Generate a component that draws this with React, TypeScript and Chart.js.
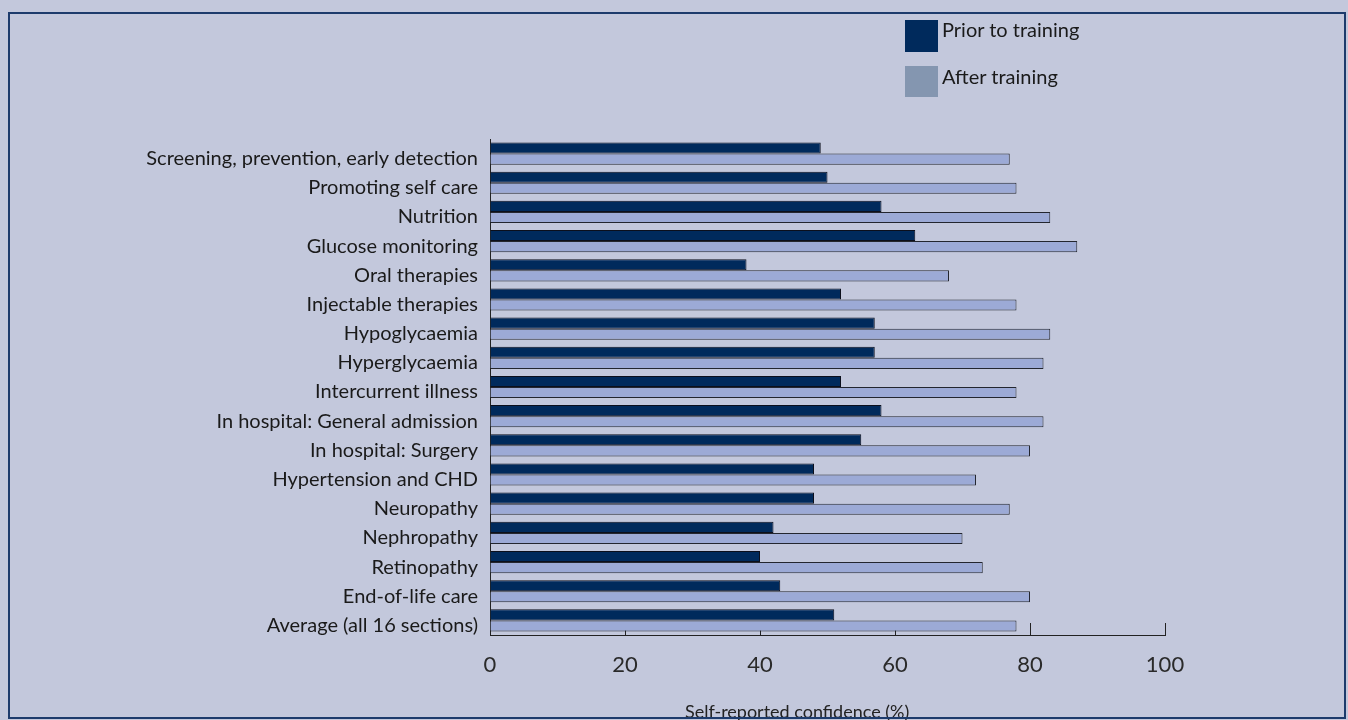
import React, { useEffect, useRef } from "react";
import { Chart, registerables } from "chart.js";

Chart.register(...registerables);

const categories = [
  "Screening, prevention, early detection",
  "Promoting self care",
  "Nutrition",
  "Glucose monitoring",
  "Oral therapies",
  "Injectable therapies",
  "Hypoglycaemia",
  "Hyperglycaemia",
  "Intercurrent illness",
  "In hospital: General admission",
  "In hospital: Surgery",
  "Hypertension and CHD",
  "Neuropathy",
  "Nephropathy",
  "Retinopathy",
  "End-of-life care",
  "Average (all 16 sections)",
];
const priorValues = [49, 50, 58, 63, 38, 52, 57, 57, 52, 58, 55, 48, 48, 42, 40, 43, 51];
const afterValues = [77, 78, 83, 87, 68, 78, 83, 82, 78, 82, 80, 72, 77, 70, 73, 80, 78];
const xTicks = [0, 20, 40, 60, 80, 100];
const seriesLabels = ["Prior to training", "After training"];
const axisTitle = "Self-reported confidence (%)";

const BG = "#c3c8dc";
const DARK = "#002a5c";
const LIGHT = "#9caad6";
const LEGEND_LIGHT = "#8496b0";
const FONT = "Lato, 'Open Sans', sans-serif";

const framePlugin = {
  id: "frame",
  beforeDraw(chart: any) {
    const ctx = chart.ctx;
    ctx.save();
    ctx.fillStyle = BG;
    ctx.fillRect(0, 0, chart.width, chart.height);
    ctx.restore();
  },
  beforeDatasetsDraw(chart: any) {
    const ctx = chart.ctx;
    const x = chart.scales.x;
    const bottom = chart.chartArea.bottom;
    ctx.save();
    ctx.strokeStyle = "#222";
    ctx.lineWidth = 1;
    xTicks.forEach((v) => {
      if (v === 0) return;
      const px = Math.round(x.getPixelForValue(v)) + 0.5;
      ctx.beginPath();
      ctx.moveTo(px, bottom);
      ctx.lineTo(px, bottom - 12);
      ctx.stroke();
    });
    ctx.restore();
  },
  afterDraw(chart: any) {
    const ctx = chart.ctx;
    const x = chart.scales.x;
    ctx.save();
    ctx.fillStyle = "#222";
    ctx.font = `18px ${FONT}`;
    ctx.textAlign = "center";
    ctx.textBaseline = "middle";
    ctx.fillText(axisTitle, x.getPixelForValue(45.5), chart.chartArea.bottom + 77);
    ctx.strokeStyle = "#1d3b6c";
    ctx.lineWidth = 2;
    ctx.strokeRect(9, 13, 1336, 705);
    ctx.restore();
  },
};

export default function App() {
  const ref = useRef<HTMLCanvasElement | null>(null);

  useEffect(() => {
    if (!ref.current) return;
    const chart = new Chart(ref.current, {
      type: "bar",
      data: {
        labels: categories,
        datasets: [
          {
            label: seriesLabels[0],
            data: priorValues,
            backgroundColor: DARK,
            borderColor: "#0b0f1c",
            borderWidth: 1,
            categoryPercentage: 0.76,
            barPercentage: 1,
          },
          {
            label: seriesLabels[1],
            data: afterValues,
            backgroundColor: LIGHT,
            borderColor: "#23262f",
            borderWidth: 1,
            categoryPercentage: 0.76,
            barPercentage: 1,
          },
        ],
      },
      options: {
        indexAxis: "y",
        responsive: false,
        animation: false,
        devicePixelRatio: 1,
        layout: { padding: { top: 139, right: 183, bottom: 0, left: 0 } },
        plugins: {
          legend: { display: false },
          tooltip: { enabled: false },
        },
        scales: {
          x: {
            min: 0,
            max: 100,
            afterBuildTicks: (s: any) => {
              s.ticks = xTicks.map((v) => ({ value: v }));
            },
            afterFit: (s: any) => {
              s.height = 85;
            },
            grid: { drawOnChartArea: false, drawTicks: false },
            border: { display: true, color: "#222", width: 1 },
            ticks: {
              font: { family: FONT, size: 22 },
              color: "#2a2a2a",
              padding: 17,
              maxRotation: 0,
            },
          },
          y: {
            afterFit: (s: any) => {
              s.width = 490;
            },
            grid: { drawOnChartArea: false, drawTicks: false },
            border: { display: true, color: "#222", width: 1 },
            ticks: {
              font: { family: FONT, size: 20 },
              color: "#1a1a1a",
              padding: 12,
              labelOffset: 5,
              autoSkip: false,
            },
          },
        },
      },
      plugins: [framePlugin],
    } as any);
    return () => chart.destroy();
  }, []);

  const legendText: React.CSSProperties = {
    position: "absolute",
    left: 942,
    fontFamily: FONT,
    fontSize: 20,
    lineHeight: "22px",
    color: "#1a1a1a",
    whiteSpace: "nowrap",
  };

  return (
    <div
      style={{
        position: "fixed",
        left: 0,
        top: 0,
        width: 1348,
        height: 720,
        background: BG,
        overflow: "hidden",
      }}
    >
      <canvas ref={ref} width={1348} height={720} style={{ display: "block" }} />
      <div style={{ position: "absolute", left: 905, top: 20, width: 33, height: 32, background: DARK }} />
      <div style={{ position: "absolute", left: 905, top: 66, width: 33, height: 31, background: LEGEND_LIGHT }} />
      <div style={{ ...legendText, top: 18 }}>{seriesLabels[0]}</div>
      <div style={{ ...legendText, top: 65 }}>{seriesLabels[1]}</div>
    </div>
  );
}
